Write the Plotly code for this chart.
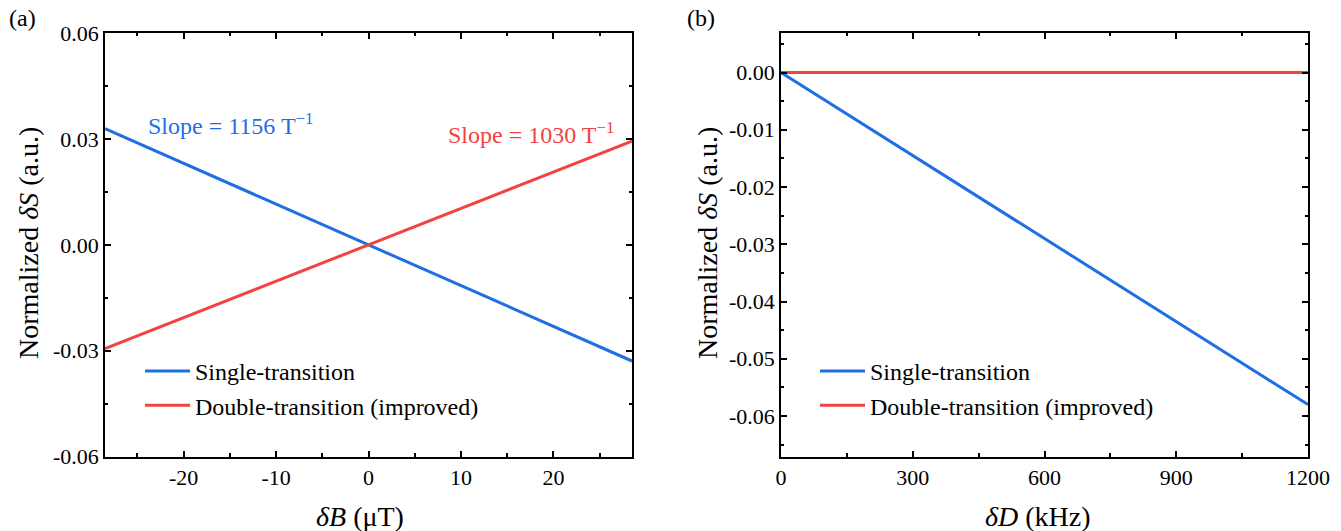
import plotly.graph_objects as go

# ---------------- data ----------------
# Panel (a): normalized signal vs magnetic field deviation (uT)
b_field = [-28.5, 0.0, 28.5]
a_single = [0.0329, 0.0, -0.0329]
a_double = [-0.0294, 0.0, 0.0294]

# Panel (b): normalized signal vs D deviation (kHz)
d_shift = [0.0, 1200.0]
b_single = [0.0, -0.058]
b_double = [0.0, 0.0]

a_xticks = [-20, -10, 0, 10, 20]
a_xtext = ["-20", "-10", "0", "10", "20"]
a_yticks = [-0.06, -0.03, 0.0, 0.03, 0.06]
a_ytext = ["-0.06", "-0.03", "0.00", "0.03", "0.06"]
b_xticks = [0, 300, 600, 900, 1200]
b_xtext = ["0", "300", "600", "900", "1200"]
b_yticks = [0.0, -0.01, -0.02, -0.03, -0.04, -0.05, -0.06]
b_ytext = ["0.00", "-0.01", "-0.02", "-0.03", "-0.04", "-0.05", "-0.06"]

names = ["Single-transition", "Double-transition (improved)"]

# ---------------- style ----------------
W, H = 1341, 531
FONT = "Liberation Serif"
BLUE = "#1f6fe3"
RED = "#f24343"

def px_x(p):
    return p / W

def px_y(p):
    return 1 - p / H

fig = go.Figure()

fig.add_trace(go.Scatter(x=b_field, y=a_single, mode="lines", name=names[0],
                         line=dict(color=BLUE, width=3), xaxis="x", yaxis="y",
                         legend="legend"))
fig.add_trace(go.Scatter(x=b_field, y=a_double, mode="lines", name=names[1],
                         line=dict(color=RED, width=3), xaxis="x", yaxis="y",
                         legend="legend"))
fig.add_trace(go.Scatter(x=d_shift, y=b_double, mode="lines", name=names[1],
                         line=dict(color=RED, width=3), xaxis="x2", yaxis="y2",
                         legend="legend2", showlegend=False))
fig.add_trace(go.Scatter(x=d_shift, y=b_single, mode="lines", name=names[0],
                         line=dict(color=BLUE, width=3), xaxis="x2", yaxis="y2",
                         legend="legend2"))
# legend entry for panel b (keeps single-transition first)
fig.add_trace(go.Scatter(x=[None], y=[None], mode="lines", name=names[1],
                         line=dict(color=RED, width=3), xaxis="x2", yaxis="y2",
                         legend="legend2"))

axis_common = dict(
    showline=True, linecolor="black", linewidth=1.5, mirror="allticks",
    ticks="inside", ticklen=6, tickwidth=1.5, tickcolor="black",
    showgrid=False, zeroline=False,
    tickfont=dict(family=FONT, size=22, color="black"),
)
minor_common = dict(ticks="inside", ticklen=3.5, tickwidth=1.5, tickcolor="black", showgrid=False)

ydom = [px_y(456.7), px_y(33)]

fig.update_layout(
    width=W, height=H,
    paper_bgcolor="white", plot_bgcolor="white",
    margin=dict(l=0, r=0, t=0, b=0, autoexpand=False),
    font=dict(family=FONT, size=22, color="black"),
    xaxis=dict(domain=[px_x(105), px_x(632)], range=[-28.5, 28.5],
               tickmode="array", tickvals=a_xticks, ticktext=a_xtext,
               minor=dict(dtick=5, **minor_common),
               anchor="y", **axis_common),
    yaxis=dict(domain=ydom, range=[-0.06, 0.06],
               tickmode="array", tickvals=a_yticks, ticktext=a_ytext,
               minor=dict(dtick=0.015, tick0=0, **minor_common),
               anchor="x", **axis_common),
    xaxis2=dict(domain=[px_x(781), px_x(1308)], range=[0, 1200],
                tickmode="array", tickvals=b_xticks, ticktext=b_xtext,
                minor=dict(dtick=150, **minor_common),
                anchor="y2", **axis_common),
    yaxis2=dict(domain=ydom, range=[-0.0671, 0.0069],
                tickmode="array", tickvals=b_yticks, ticktext=b_ytext,
                minor=dict(dtick=0.005, tick0=0, **minor_common),
                anchor="x2", **axis_common),
    legend=dict(x=px_x(140), y=px_y(349), xanchor="left", yanchor="top",
                bgcolor="rgba(0,0,0,0)", itemwidth=45,
                font=dict(family=FONT, size=24, color="black"), tracegroupgap=0),
    legend2=dict(x=px_x(815), y=px_y(349), xanchor="left", yanchor="top",
                 bgcolor="rgba(0,0,0,0)", itemwidth=45,
                 font=dict(family=FONT, size=24, color="black"), tracegroupgap=0),
    showlegend=True,
)

ann = []
# panel labels
ann.append(dict(text="(a)", x=px_x(7), y=px_y(18), xref="paper", yref="paper",
                xanchor="left", yanchor="middle", showarrow=False,
                font=dict(family=FONT, size=24, color="black")))
ann.append(dict(text="(b)", x=px_x(685), y=px_y(18), xref="paper", yref="paper",
                xanchor="left", yanchor="middle", showarrow=False,
                font=dict(family=FONT, size=24, color="black")))
# slope labels
ann.append(dict(text="Slope = 1156 T<sup>\u22121</sup>", x=px_x(146), y=px_y(124),
                xref="paper", yref="paper", xanchor="left", yanchor="middle",
                showarrow=False, font=dict(family=FONT, size=24, color=BLUE)))
ann.append(dict(text="Slope = 1030 T<sup>\u22121</sup>", x=px_x(446), y=px_y(133),
                xref="paper", yref="paper", xanchor="left", yanchor="middle",
                showarrow=False, font=dict(family=FONT, size=24, color=RED)))
# axis titles
ytitle = "Normalized <i>\u03b4S</i> (a.u.)"
ann.append(dict(text=ytitle, x=px_x(28), y=px_y(243), xref="paper", yref="paper",
                textangle=-90, xanchor="center", yanchor="middle", showarrow=False,
                font=dict(family=FONT, size=28, color="black")))
ann.append(dict(text=ytitle, x=px_x(707), y=px_y(243), xref="paper", yref="paper",
                textangle=-90, xanchor="center", yanchor="middle", showarrow=False,
                font=dict(family=FONT, size=28, color="black")))
ann.append(dict(text="<i>\u03b4B</i> (\u03bcT)", x=px_x(360), y=px_y(516), xref="paper", yref="paper",
                xanchor="center", yanchor="middle", showarrow=False,
                font=dict(family=FONT, size=28, color="black")))
ann.append(dict(text="<i>\u03b4D</i> (kHz)", x=px_x(1038), y=px_y(516), xref="paper", yref="paper",
                xanchor="center", yanchor="middle", showarrow=False,
                font=dict(family=FONT, size=28, color="black")))
fig.update_layout(annotations=ann)

# remove the browser's default page margin so the figure sits at the window's corner
fig.write_html("out.html", config={"displayModeBar": False},
               post_script="document.body.style.margin='0';")
